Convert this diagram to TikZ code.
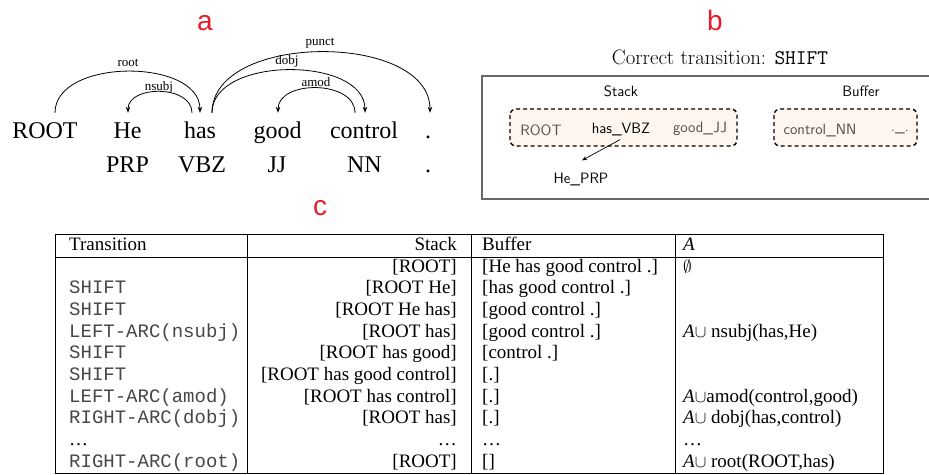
\documentclass[tikz,border=0pt]{standalone}
\usepackage{fontspec}
\newfontfamily\tms{Liberation Serif}
\newfontfamily\cour{Liberation Mono}
\newfontfamily\lsans{Liberation Sans}
\usetikzlibrary{arrows.meta}
\definecolor{lblred}{RGB}{230,30,40}
\definecolor{peach}{RGB}{254,245,238}
\definecolor{tokgray}{RGB}{85,75,72}
\definecolor{boxgray}{RGB}{105,105,105}
\begin{document}
\begin{tikzpicture}[x=1pt,y=-1pt,
  word/.style={font=\tms\fontsize{24}{28}\selectfont, anchor=base, inner sep=0pt, text height=17pt, text depth=0pt},
  arclbl/.style={font=\tms\fontsize{13}{15}\selectfont, anchor=base, inner sep=0pt},
  dep/.style={-{Stealth[length=6pt,width=4.5pt]}, line width=0.8pt},
  panel/.style={font=\lsans\fontsize{28}{32}\selectfont, text=lblred, inner sep=0pt},
  tok/.style={font=\sffamily\fontsize{15}{18}\selectfont, inner sep=1pt},
  dbox/.style={draw, line width=1.4pt, rounded corners=6pt, fill=peach, dash pattern=on 4pt off 3pt},
  cell/.style={font=\tms\fontsize{19}{21.7}\selectfont, anchor=base west, inner sep=0pt},
  rcell/.style={font=\tms\fontsize{19}{21.7}\selectfont, anchor=base east, inner sep=0pt},
  tcell/.style={font=\cour\fontsize{19}{21.7}\selectfont, text=black!72, anchor=base west, inner sep=0pt},
  tline/.style={line width=0.9pt}
]
\useasboundingbox (0,0) rectangle (929,474);

% ---------------- panel a ----------------
\node[panel] (la) at (205,23) {a};
\node[word] (wroot) at (45,138) {ROOT};
\node[word] (whe) at (127.5,138) {He};
\node[word] (whas) at (200,138) {has};
\node[word] (wgood) at (277.5,138) {good};
\node[word] (wcontrol) at (364,138) {control};
\node[word] (wdot) at (428,138) {.};
\node[word] (tprp) at (127.5,172) {PRP};
\node[word] (tvbz) at (202,172) {VBZ};
\node[word] (tjj) at (277,172) {JJ};
\node[word] (tnn) at (364.5,172) {NN};
\node[word] (tdot) at (428,172) {.};

\draw[dep] ([xshift=10pt,yshift=8pt]wroot.north) .. controls +(0,-55) and +(0,-55) .. ([yshift=8pt]whas.north);
\draw[dep] ([xshift=-8pt,yshift=8pt]whas.north) .. controls +(0,-28) and +(0,-28) .. ([xshift=0.5pt,yshift=8pt]whe.north);
\draw[dep] ([xshift=12pt,yshift=8pt]whas.north) .. controls +(0,-57) and +(0,-57) .. ([xshift=1pt,yshift=8pt]wcontrol.north);
\draw[dep] ([xshift=12pt,yshift=8pt]whas.north) .. controls +(0,-81) and +(0,-81) .. ([xshift=2pt,yshift=8pt]wdot.north);
\draw[dep] ([xshift=-9pt,yshift=8pt]wcontrol.north) .. controls +(0,-33) and +(0,-33) .. ([xshift=0.5pt,yshift=8pt]wgood.north);

\node[arclbl] (lroot) at (128,66.5) {root};
\node[arclbl] (lnsubj) at (159,90) {nsubj};
\node[arclbl] (ldobj) at (287,64.5) {dobj};
\node[arclbl] (lpunct) at (320,45.5) {punct};
\node[arclbl] (lamod) at (316,86) {amod};

% ---------------- panel b ----------------
\node[panel] (lb) at (715,20) {b};
\node[font=\rmfamily\fontsize{20.8}{24}\selectfont, anchor=base, inner sep=0pt] (title) at (720,64) {Correct transition: \texttt{SHIFT}};
\draw[boxgray, line width=1.5pt] (945,76) -- (482,76) -- (482,199) -- (945,199);
\node[tok] (hstack) at (621,91) {Stack};
\node[tok] (hbuf) at (861,91) {Buffer};
\path[dbox] (510,109) rectangle (737,146);
\path[dbox] (774,109) rectangle (917,146);
\node[tok, text=tokgray] (sroot) at (541,130) {ROOT};
\node[tok] (shas) at (621,130) {has\_VBZ};
\node[tok, text=tokgray] (sgood) at (700,129) {good\_JJ};
\node[tok, text=tokgray] (bcontrol) at (820,131) {control\_NN};
\node[tok, text=tokgray] (bdots) at (900,132) {.\_.};
\node[tok] (he) at (581,180) {He\_PRP};
\draw[-{Stealth[length=5pt,width=4pt]}, line width=0.7pt] ([xshift=-1pt,yshift=-2pt]shas.south) -- ([xshift=1pt,yshift=12pt]he.north);

% ---------------- panel c ----------------
\node[panel] (lc) at (320,208) {c};
\draw[tline] (55,234) rectangle (883,473);
\draw[tline] (55,257) -- (883,257);
\draw[tline] (247,234) -- (247,473);
\draw[tline] (471,234) -- (471,473);
\draw[tline] (675,234) -- (675,473);

\node[cell] (h1) at (69,250.5) {Transition};
\node[rcell] (h2) at (457,250.5) {Stack};
\node[cell] (h3) at (482,250.5) {Buffer};
\node[cell] (h4) at (683,250.5) {\textit{A}};

% row 1
\node[rcell] (s1) at (457,272) {[ROOT]};
\node[cell] (b1) at (482,272) {[He has good control .]};
\node[cell] (a1) at (683,272) {$\emptyset$};
% row 2
\node[tcell] (t2) at (69,293.7) {SHIFT};
\node[rcell] (s2) at (457,293.7) {[ROOT He]};
\node[cell] (b2) at (482,293.7) {[has good control .]};
% row 3
\node[tcell] (t3) at (69,315.4) {SHIFT};
\node[rcell] (s3) at (457,315.4) {[ROOT He has]};
\node[cell] (b3) at (482,315.4) {[good control .]};
% row 4
\node[tcell] (t4) at (69,337.1) {LEFT-ARC(nsubj)};
\node[rcell] (s4) at (457,337.1) {[ROOT has]};
\node[cell] (b4) at (482,337.1) {[good control .]};
\node[cell] (a4) at (683,337.1) {\textit{A}$\cup$ nsubj(has,He)};
% row 5
\node[tcell] (t5) at (69,358.8) {SHIFT};
\node[rcell] (s5) at (457,358.8) {[ROOT has good]};
\node[cell] (b5) at (482,358.8) {[control .]};
% row 6
\node[tcell] (t6) at (69,380.5) {SHIFT};
\node[rcell] (s6) at (457,380.5) {[ROOT has good control]};
\node[cell] (b6) at (482,380.5) {[.]};
% row 7
\node[tcell] (t7) at (69,402.2) {LEFT-ARC(amod)};
\node[rcell] (s7) at (457,402.2) {[ROOT has control]};
\node[cell] (b7) at (482,402.2) {[.]};
\node[cell] (a7) at (683,402.2) {\textit{A}$\cup$amod(control,good)};
% row 8
\node[tcell] (t8) at (69,423.9) {RIGHT-ARC(dobj)};
\node[rcell] (s8) at (457,423.9) {[ROOT has]};
\node[cell] (b8) at (482,423.9) {[.]};
\node[cell] (a8) at (683,423.9) {\textit{A}$\cup$ dobj(has,control)};
% row 9
\node[cell] (t9) at (69,445.6) {\ldots};
\node[rcell] (s9) at (457,445.6) {\ldots};
\node[cell] (b9) at (482,445.6) {\ldots};
\node[cell] (a9) at (683,445.6) {\ldots};
% row 10
\node[tcell] (t10) at (69,467.3) {RIGHT-ARC(root)};
\node[rcell] (s10) at (457,467.3) {[ROOT]};
\node[cell] (b10) at (482,467.3) {[]};
\node[cell] (a10) at (683,467.3) {\textit{A}$\cup$ root(ROOT,has)};
\end{tikzpicture}
\end{document}
